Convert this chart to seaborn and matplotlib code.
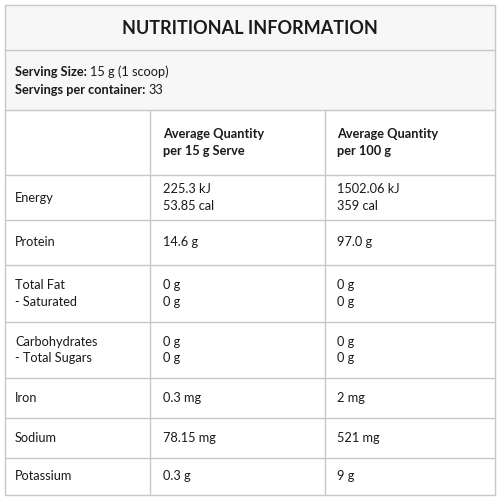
import matplotlib
matplotlib.use("Agg")
import matplotlib.pyplot as plt
import seaborn as sns

sns.set_theme(style="white")
plt.rcParams['font.family'] = ['Lato', 'DejaVu Sans']

title = "NUTRITIONAL INFORMATION"
serving_size = "15 g (1 scoop)"
servings = "33"
col_headers = ["Average Quantity\nper 15 g Serve", "Average Quantity\nper 100 g"]
nutrients = ["Energy", "Protein", "Total Fat\n- Saturated", "Carbohydrates\n- Total Sugars", "Iron", "Sodium", "Potassium"]
per_serve = ["225.3 kJ\n53.85 cal", "14.6 g", "0 g\n0 g", "0 g\n0 g", "0.3 mg", "78.15 mg", "0.3 g"]
per_100g = ["1502.06 kJ\n359 cal", "97.0 g", "0 g\n0 g", "0 g\n0 g", "2 mg", "521 mg", "9 g"]

row_edges = [110, 175, 220, 265, 322, 378, 418, 458, 495]
L, R, C1, C2 = 5, 495, 150, 325
line_c = "#c8c8c8"
fs = 9.2

fig = plt.figure(figsize=(5, 5), dpi=100)
ax = fig.add_axes([0, 0, 1, 1])
ax.set_xlim(0, 500); ax.set_ylim(500, 0); ax.axis("off")

ax.add_patch(plt.Rectangle((L, 5), R - L, 105, color="#f7f7f7", zorder=0))
ax.add_patch(plt.Rectangle((L, 5), R - L, 490, fill=False, ec=line_c, lw=1))
ax.plot([L, R], [50, 50], color=line_c, lw=1)
ax.text(250, 28, title, ha="center", va="center", fontsize=13, fontweight="bold", color="#1a1a1a")

renderer = fig.canvas.get_renderer()
for y, lab, val in [(72, "Serving Size:", serving_size), (90, "Servings per container:", servings)]:
    t = ax.text(15, y, lab, ha="left", va="center", fontsize=fs, fontweight="bold", color="#1a1a1a")
    bb = t.get_window_extent(renderer)
    xd = ax.transData.inverted().transform((bb.x1, bb.y0))[0]
    ax.text(xd + 3, y, val, ha="left", va="center", fontsize=fs, color="#1a1a1a")

for y in row_edges[:-1]:
    ax.plot([L, R], [y, y], color=line_c, lw=1)
for x in (C1, C2):
    ax.plot([x, x], [110, 495], color=line_c, lw=1)

hy = (row_edges[0] + row_edges[1]) / 2
ax.text(163, hy, col_headers[0], ha="left", va="center", fontsize=fs, fontweight="bold", color="#1a1a1a", linespacing=1.45)
ax.text(337, hy, col_headers[1], ha="left", va="center", fontsize=fs, fontweight="bold", color="#1a1a1a", linespacing=1.45)

for i, (n, a, b) in enumerate(zip(nutrients, per_serve, per_100g)):
    y = (row_edges[i + 1] + row_edges[i + 2]) / 2
    ax.text(15, y, n, ha="left", va="center", fontsize=fs, color="#1a1a1a", linespacing=1.45)
    ax.text(163, y, a, ha="left", va="center", fontsize=fs, color="#1a1a1a", linespacing=1.45)
    ax.text(337, y, b, ha="left", va="center", fontsize=fs, color="#1a1a1a", linespacing=1.45)

fig.savefig("out.png", dpi=100, facecolor="white")
